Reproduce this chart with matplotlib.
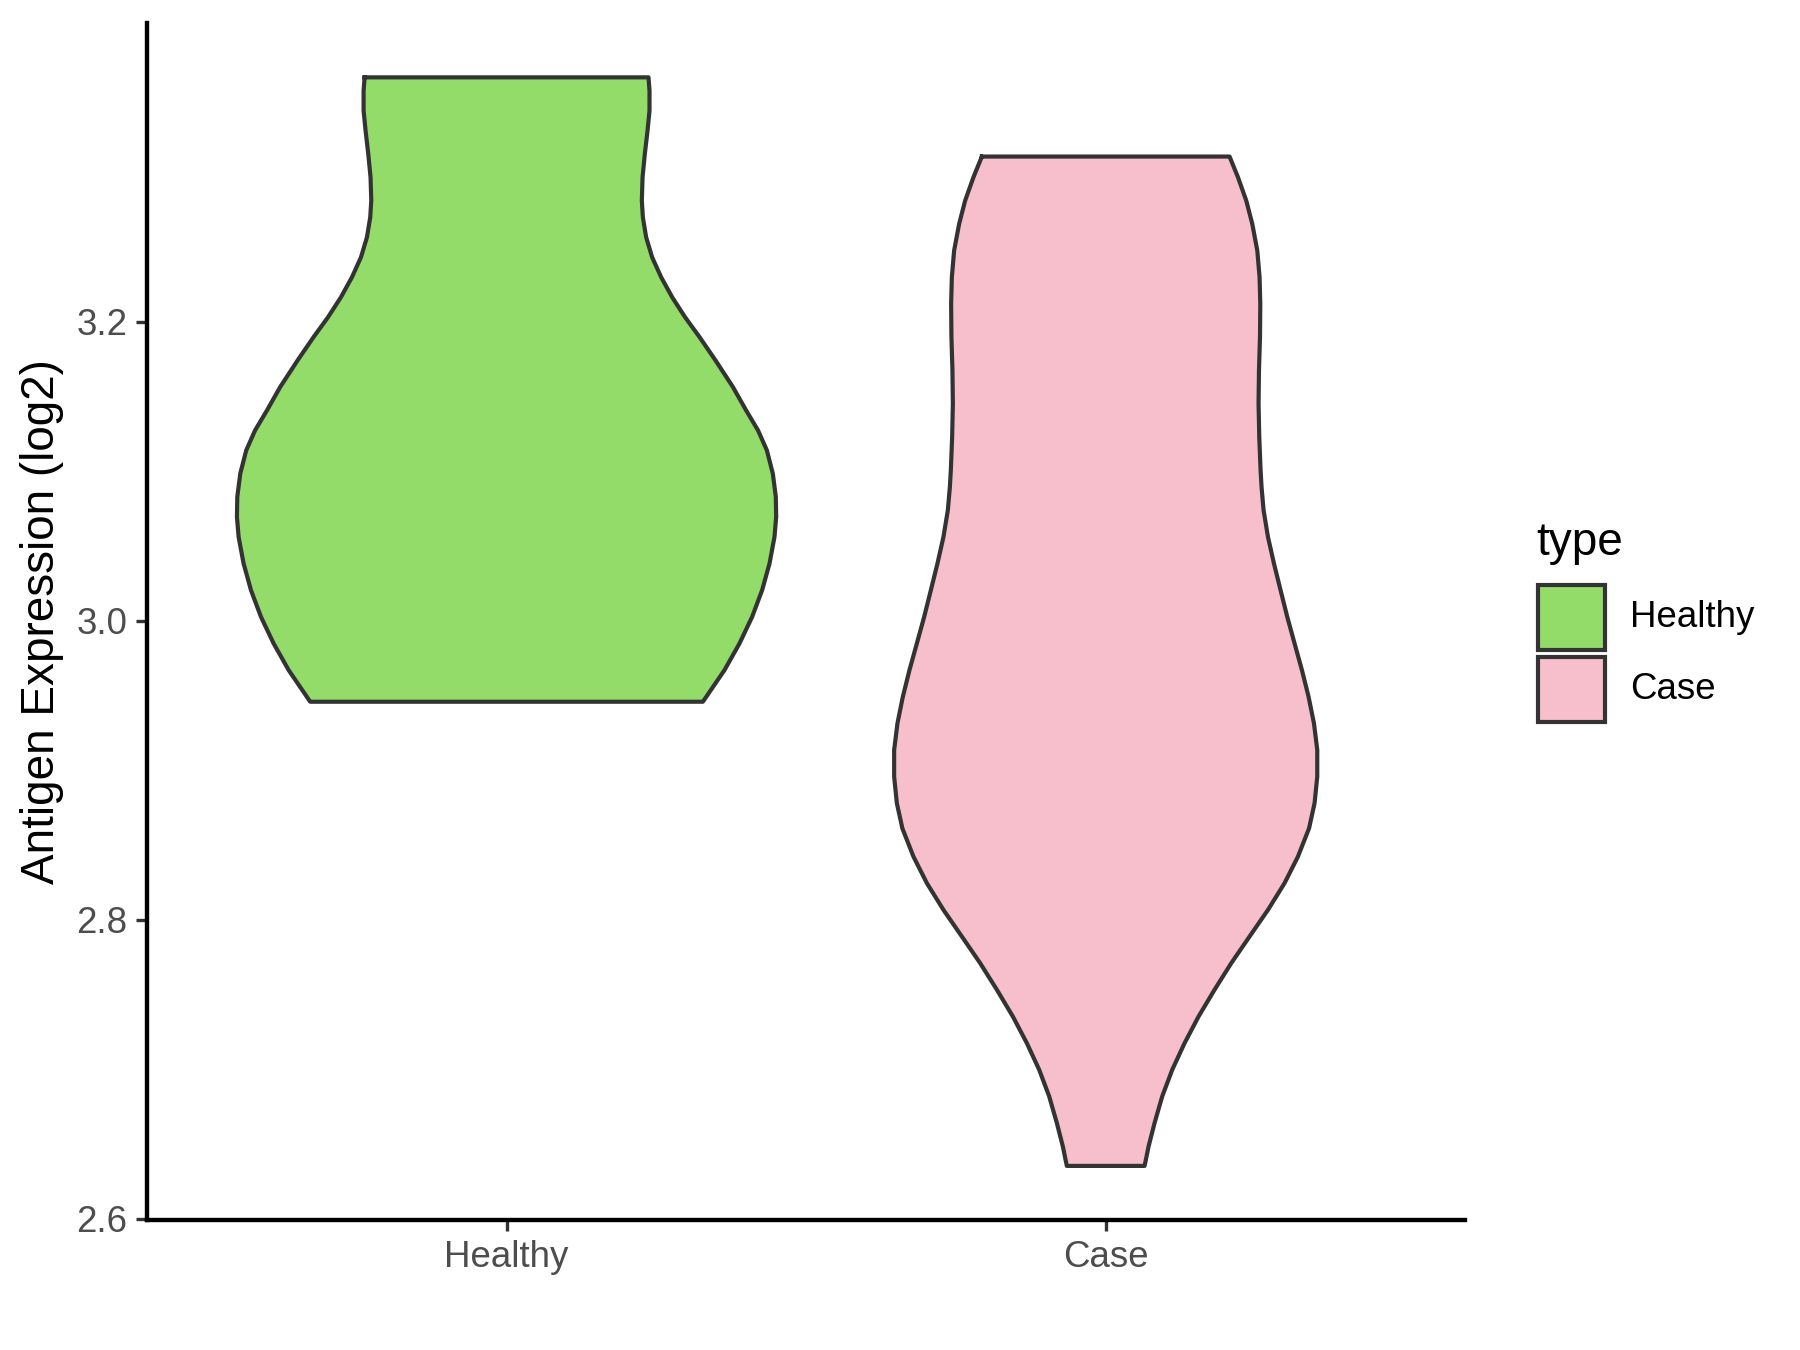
import numpy as np
import matplotlib
matplotlib.use("Agg")
import matplotlib.pyplot as plt
from matplotlib.patches import Rectangle

plt.rcParams['font.family'] = ['Liberation Sans', 'DejaVu Sans']

groups = ["Healthy", "Case"]
colors = ["#93DC6A", "#F7BFCB"]

# violin outlines: y value and half width (x units)
healthy_y = [3.3636, 3.3547, 3.3413, 3.3279, 3.3124, 3.2967, 3.2811, 3.2700, 3.2566,
             3.2432, 3.2299, 3.2165, 3.2031, 3.1898, 3.1742, 3.1564, 3.1408, 3.1274,
             3.1140, 3.0985, 3.0829, 3.0695, 3.0561, 3.0383, 3.0205, 3.0026, 2.9848,
             2.9670, 2.9458]
healthy_w = [0.2369, 0.2386, 0.2386, 0.2353, 0.2308, 0.2270, 0.2258, 0.2275, 0.2330,
             0.2430, 0.2580, 0.2764, 0.2980, 0.3221, 0.3488, 0.3778, 0.3998, 0.4197,
             0.4345, 0.4444, 0.4494, 0.4500, 0.4472, 0.4389, 0.4266, 0.4099, 0.3888,
             0.3638, 0.3277]

case_y = [3.3106, 3.2967, 3.2811, 3.2656, 3.2477, 3.2299, 3.2121, 3.1898, 3.1675,
          3.1453, 3.1229, 3.1007, 3.0895, 3.0739, 3.0561, 3.0383, 3.0205, 3.0026,
          2.9848, 2.9670, 2.9491, 2.9313, 2.9135, 2.8957, 2.8779, 2.8611, 2.8422,
          2.8244, 2.8065, 2.7887, 2.7709, 2.7531, 2.7352, 2.7174, 2.6996, 2.6818,
          2.6640, 2.6483, 2.6352]
case_w = [0.2067, 0.2208, 0.2346, 0.2446, 0.2530, 0.2568, 0.2580, 0.2575, 0.2558,
          0.2551, 0.2563, 0.2585, 0.2601, 0.2635, 0.2708, 0.2808, 0.2918, 0.3030,
          0.3152, 0.3275, 0.3386, 0.3476, 0.3531, 0.3531, 0.3486, 0.3394, 0.3209,
          0.2985, 0.2708, 0.2401, 0.2096, 0.1817, 0.1550, 0.1317, 0.1111, 0.0944,
          0.0816, 0.0716, 0.0649]

yticks = [2.6, 2.8, 3.0, 3.2]

fig = plt.figure(figsize=(12, 9), dpi=150)
ax = fig.add_axes([0.0817, 0.0963, 0.7323, 0.8867])

edge = "#333333"
for i, (yy, ww) in enumerate([(healthy_y, healthy_w), (case_y, case_w)]):
    yy = np.array(yy)
    ww = np.array(ww)
    pos = i + 1
    xs = np.concatenate([pos - ww, (pos + ww)[::-1], [pos - ww[0]]])
    ys = np.concatenate([yy, yy[::-1], [yy[0]]])
    ax.fill(xs, ys, color=colors[i], zorder=2)
    ax.plot(xs, ys, color=edge, lw=2.0, zorder=3, solid_joinstyle="round")

ax.set_xlim(0.4, 2.6)
ax.set_ylim(2.599, 3.400)
ax.set_xticks([1, 2])
ax.set_xticklabels(groups)
ax.set_yticks(yticks)
ax.set_yticklabels([f"{v:.1f}" for v in yticks])
ax.tick_params(axis="both", colors="#333333", length=5.5, width=1.6,
               labelsize=17.6, labelcolor="#4D4D4D", pad=4)
for s in ["top", "right"]:
    ax.spines[s].set_visible(False)
for s in ["left", "bottom"]:
    ax.spines[s].set_linewidth(2.1)
    ax.spines[s].set_color("black")
ax.set_ylabel("Antigen Expression (log2)", fontsize=22, color="black", labelpad=6)

# legend
fig.text(0.8533, 0.598, "type", fontsize=22, va="center", ha="left")
keys = [(0.5185, colors[0], "Healthy"), (0.4652, colors[1], "Case")]
for yb, c, lab in keys:
    fig.add_artist(Rectangle((0.8544, yb), 0.0373, 0.0481, transform=fig.transFigure,
                             facecolor=c, edgecolor=edge, lw=2.0))
    fig.text(0.9056, yb + 0.024, lab, fontsize=17.6, va="center", ha="left")

fig.savefig("out.png", dpi=150)
